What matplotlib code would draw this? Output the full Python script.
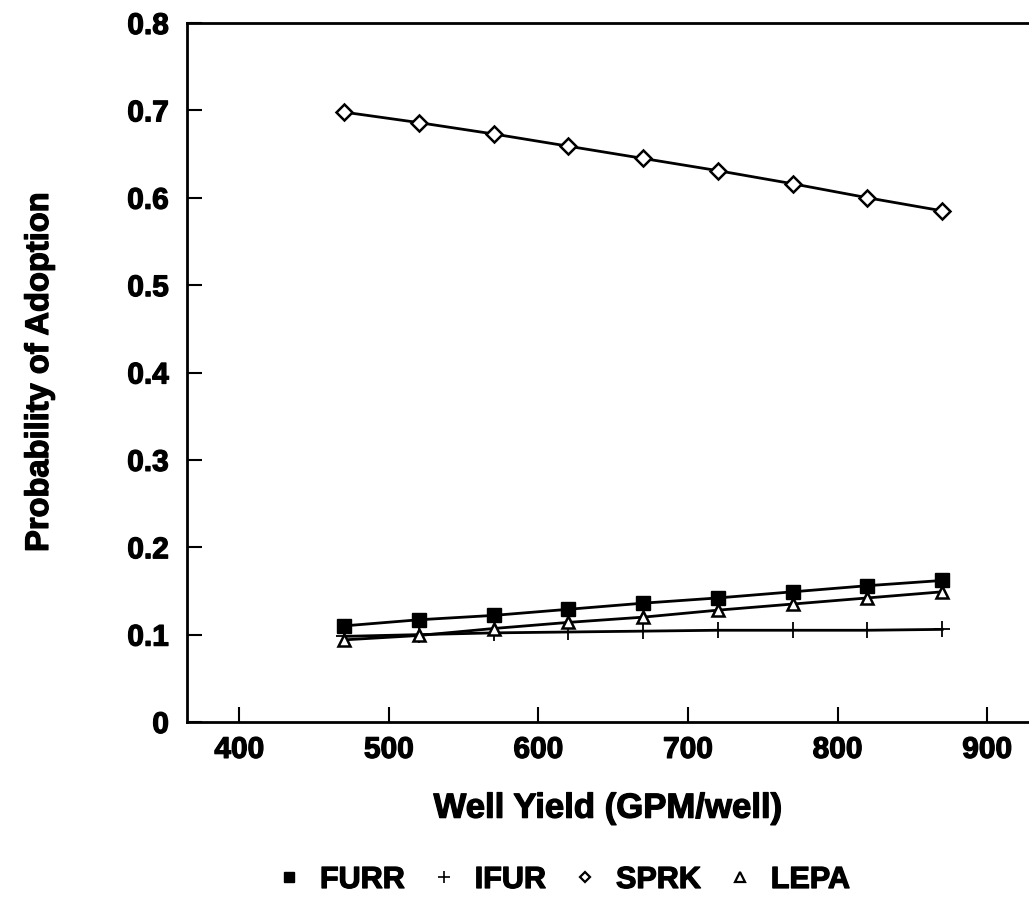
import matplotlib
matplotlib.use("Agg")
import matplotlib.pyplot as plt
import matplotlib.patheffects as pe
from matplotlib.lines import Line2D

plt.rcParams['font.family'] = ['Liberation Sans', 'DejaVu Sans']
plt.rcParams['font.weight'] = 'bold'

# Well yield (GPM/well)
well_yield = [470, 520, 570, 620, 670, 720, 770, 820, 870]

# Probability of adoption by irrigation technology
furr = [0.110, 0.117, 0.122, 0.129, 0.136, 0.142, 0.149, 0.156, 0.162]
ifur = [0.098, 0.100, 0.102, 0.103, 0.104, 0.105, 0.105, 0.105, 0.106]
sprk = [0.698, 0.686, 0.673, 0.659, 0.645, 0.631, 0.616, 0.600, 0.585]
lepa = [0.094, 0.099, 0.107, 0.114, 0.120, 0.128, 0.135, 0.142, 0.149]

series_names = ['FURR', 'IFUR', 'SPRK', 'LEPA']
x_ticks = [400, 500, 600, 700, 800, 900]
y_ticks = [0, 0.1, 0.2, 0.3, 0.4, 0.5, 0.6, 0.7, 0.8]
y_tick_labels = ['0', '0.1', '0.2', '0.3', '0.4', '0.5', '0.6', '0.7', '0.8']

# heavier lettering
heavy = [pe.withStroke(linewidth=0.9, foreground='black')]

W, H = 1029, 917
fig = plt.figure(figsize=(W / 100, H / 100), dpi=100)
left, right, top, bottom = 187, 1029, 23, 722
ax = fig.add_axes([left / W, (H - bottom) / H, (right - left) / W, (bottom - top) / H])

styles = [
    dict(marker='s', markersize=10, markerfacecolor='black', markeredgecolor='black'),
    dict(marker='+', markersize=12, markeredgewidth=1.3, markeredgecolor='black'),
    dict(marker='D', markersize=8, markerfacecolor='white', markeredgecolor='black', markeredgewidth=1.8),
    dict(marker='^', markersize=9, markerfacecolor='white', markeredgecolor='black', markeredgewidth=1.8),
]

for vals, st in zip([furr, ifur, sprk, lepa], styles):
    ax.plot(well_yield, vals, color='black', linewidth=2.0, **st)

ax.set_xlim(365, 928)
ax.set_ylim(0, 0.8)
ax.set_xticks(x_ticks)
ax.set_yticks(y_ticks)
ax.set_yticklabels(y_tick_labels)
ax.tick_params(axis='both', direction='in', length=11, width=1.5, labelsize=21.5)
ax.tick_params(axis='y', pad=13)
ax.tick_params(axis='x', pad=10)
for lab in ax.get_xticklabels() + ax.get_yticklabels():
    lab.set_fontweight('bold')
    lab.set_path_effects(heavy)

ax.spines['right'].set_visible(False)
for s in ['left', 'top', 'bottom']:
    ax.spines[s].set_linewidth(2.0)

xl = ax.set_xlabel('Well Yield (GPM/well)', fontsize=25, fontweight='bold', labelpad=20)
yl = ax.set_ylabel('Probability of Adoption', fontsize=23.5, fontweight='bold', labelpad=52)
xl.set_path_effects(heavy)
yl.set_path_effects(heavy)

handles = [
    Line2D([], [], linestyle='none', marker='s', markersize=7, color='black'),
    Line2D([], [], linestyle='none', marker='+', markersize=9, markeredgewidth=1.2, color='black'),
    Line2D([], [], linestyle='none', marker='D', markersize=5.5, markerfacecolor='white',
           markeredgecolor='black', markeredgewidth=1.6),
    Line2D([], [], linestyle='none', marker='^', markersize=6.5, markerfacecolor='white',
           markeredgecolor='black', markeredgewidth=1.6),
]
leg = fig.legend(handles, series_names, loc='center', bbox_to_anchor=(565 / W, 1 - 880 / H),
                 ncol=4, frameon=False, handlelength=0.6, handletextpad=0.7,
                 columnspacing=1.0, prop={'weight': 'bold', 'size': 22})
for t in leg.get_texts():
    t.set_path_effects(heavy)

fig.savefig('out.png', dpi=100)
